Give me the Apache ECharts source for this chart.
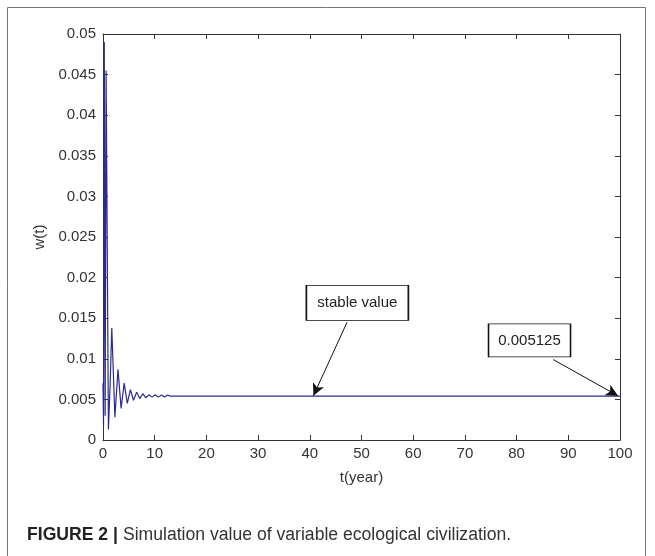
<!DOCTYPE html>
<html>
<head>
<meta charset="utf-8">
<script src="https://cdn.jsdelivr.net/npm/echarts@6/dist/echarts.min.js"></script>
<style>
  html, body { margin: 0; padding: 0; background: #fff; }
  #chart { width: 655px; height: 556px; }
</style>
</head>
<body>
<div id="chart"></div>
<script>
// ---- data ----
var tYears = [0, 0.1, 0.25, 0.42, 0.6, 1.05, 1.4, 1.7, 2.3, 2.9, 3.5, 4.1, 4.7, 5.3, 5.9, 6.5, 7.1, 7.7, 8.3, 8.9, 9.5, 10.1, 10.7, 11.3, 11.9, 12.5, 13, 100];
var wValues = [0.0070, 0.0018, 0.0490, 0.0030, 0.0455, 0.0013, 0.0072, 0.0138, 0.0028, 0.0087, 0.0039, 0.0070, 0.0045, 0.0062, 0.0049, 0.0059, 0.0051, 0.0057, 0.0052, 0.00556, 0.00528, 0.00556, 0.00528, 0.00555, 0.00529, 0.00554, 0.0054, 0.0054];
var xTicks = { min: 0, max: 100, interval: 10 };
var yTicks = { min: 0, max: 0.05, interval: 0.005 };
var annotationTexts = ['stable value', '0.005125'];
var boxAnchors = [[49.2, 0.01689], [82.5, 0.01227]];
var arrowStarts = [[47.2, 0.01449], [87.1, 0.0099]];
var arrowTips = [[40.7, 0.00545], [99.6, 0.00544]];
var captionBold = 'FIGURE 2 |';
var captionText = 'Simulation value of variable ecological civilization.';

var seriesData = tYears.map(function (t, i) { return [t, wValues[i]]; });

var font = 'Liberation Sans, Arial, sans-serif';
var chart = echarts.init(document.getElementById('chart'), null, { renderer: 'canvas' });

function baseX(show) {
  return {
    type: 'value', min: xTicks.min, max: xTicks.max, interval: xTicks.interval,
    axisLine: { show: true, onZero: false, lineStyle: { color: '#333', width: 1 } },
    axisTick: { show: true, inside: true, length: 5, lineStyle: { color: '#333' } },
    axisLabel: { show: show, color: '#333', fontSize: 15, fontFamily: font, margin: 6 },
    splitLine: { show: false }
  };
}
function baseY(show) {
  return {
    type: 'value', min: yTicks.min, max: yTicks.max, interval: yTicks.interval,
    axisLine: { show: true, onZero: false, lineStyle: { color: '#333', width: 1 } },
    axisTick: { show: true, inside: true, length: 5, lineStyle: { color: '#333' } },
    axisLabel: { show: show, color: '#333', fontSize: 15, fontFamily: font, margin: 7 },
    splitLine: { show: false }
  };
}

var xBottom = baseX(true);
xBottom.position = 'bottom';
xBottom.name = 't(year)';
xBottom.nameLocation = 'middle';
xBottom.nameGap = 30;
xBottom.nameTextStyle = { color: '#333', fontSize: 15, fontFamily: font };
var xTop = baseX(false);
xTop.position = 'top';

var yLeft = baseY(true);
yLeft.position = 'left';
yLeft.name = 'w(t)';
yLeft.nameLocation = 'middle';
yLeft.nameGap = 56;
yLeft.nameTextStyle = { color: '#333', fontSize: 15, fontFamily: font };
var yRight = baseY(false);
yRight.position = 'right';

var option = {
  backgroundColor: '#fff',
  animation: false,
  grid: { left: 103, right: 35, top: 34, bottom: 116, containLabel: false },
  title: {
    left: 22, top: 521,
    text: '{b|' + captionBold + '} {n|' + captionText + '}',
    textStyle: {
      fontWeight: 'normal',
      rich: {
        b: { fontFamily: font, fontWeight: 'bold', fontSize: 17.6, color: '#222' },
        n: { fontFamily: font, fontWeight: 'normal', fontSize: 17.6, color: '#333' }
      }
    }
  },
  graphic: [{
    type: 'rect', silent: true,
    shape: { x: 7.5, y: 7.5, width: 638, height: 570 },
    style: { fill: 'none', stroke: '#777', lineWidth: 1 }
  }],
  xAxis: [xBottom, xTop],
  yAxis: [yLeft, yRight],
  series: [{
    type: 'line',
    data: seriesData,
    showSymbol: false,
    lineStyle: { color: '#2a2a90', width: 1.2 },
    markLine: {
      silent: true,
      symbol: ['none', 'arrow'],
      symbolSize: [9, 12],
      lineStyle: { color: '#111', width: 1, type: 'solid' },
      label: { show: false },
      data: arrowStarts.map(function (s, i) {
        return [{ coord: s }, { coord: arrowTips[i] }];
      })
    },
    markPoint: {
      silent: true,
      symbol: 'rect',
      itemStyle: { color: '#fff', borderColor: '#111', borderWidth: 1 },
      label: { show: true, color: '#222', fontSize: 15, fontFamily: font },
      data: annotationTexts.map(function (txt, i) {
        return {
          coord: boxAnchors[i],
          symbolSize: i === 0 ? [102, 35] : [82, 33],
          label: { formatter: txt }
        };
      })
    }
  }]
};
chart.setOption(option);
</script>
</body>
</html>
